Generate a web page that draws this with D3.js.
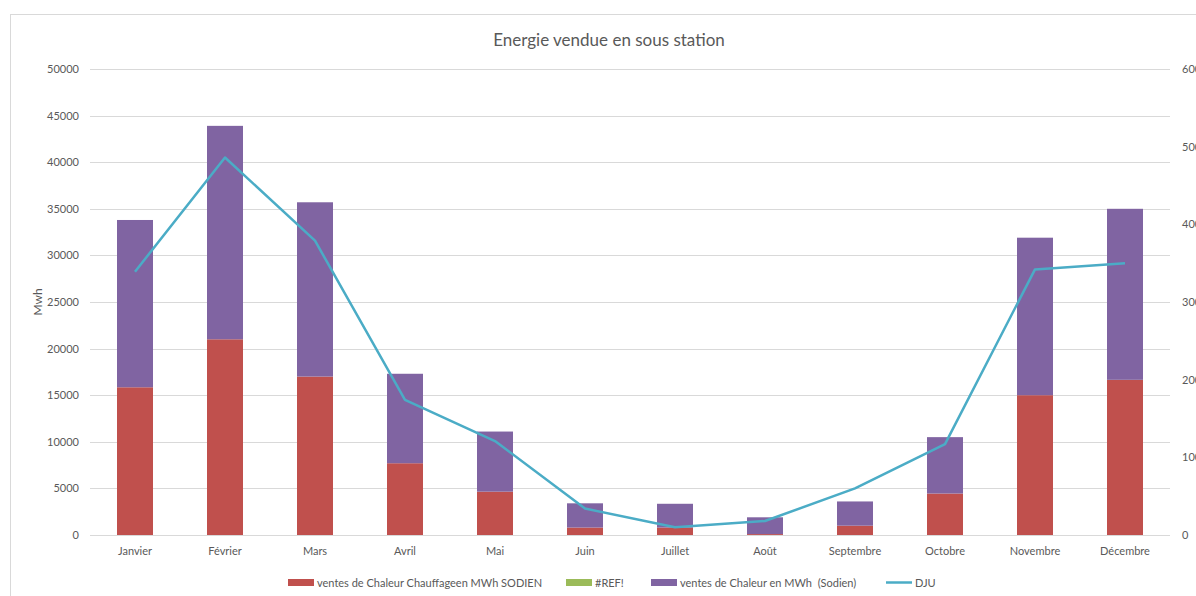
<!DOCTYPE html>
<html>
<head>
<meta charset="utf-8">
<script src="https://cdn.jsdelivr.net/npm/d3@7/dist/d3.min.js"></script>
<style>
  html, body { margin: 0; padding: 0; background: #fff; overflow: hidden; }
  svg { display: block; }
  text { font-family: Lato, "Open Sans", sans-serif; fill: #595959; }
</style>
</head>
<body>
<svg id="chart" width="1196" height="596"></svg>
<script>
const months = ["Janvier","Février","Mars","Avril","Mai","Juin","Juillet","Août","Septembre","Octobre","Novembre","Décembre"];
const ventesChauffageen = [15850, 21000, 17000, 7700, 4650, 800, 800, 100, 1000, 4450, 15000, 16650];
const refSeries = [0, 0, 0, 0, 0, 0, 0, 0, 0, 0, 0, 0];
const ventesSodien = [17950, 22900, 18700, 9600, 6450, 2600, 2550, 1800, 2600, 6050, 16900, 18350];
const dju = [339, 486, 379, 174, 121, 34, 10, 18, 60, 117, 342, 350];
const leftTicks = [0, 5000, 10000, 15000, 20000, 25000, 30000, 35000, 40000, 45000, 50000];
const rightTicks = [0, 100, 200, 300, 400, 500, 600];
const seriesNames = ["ventes de Chaleur Chauffageen MWh SODIEN", "#REF!", "ventes de Chaleur en MWh  (Sodien)", "DJU"];
const colors = ["#C0504D", "#9BBB59", "#8064A2", "#4BACC6"];

const svg = d3.select("#chart");
const plot = { left: 90, right: 1170, top: 69, bottom: 535 };

// chart frame
svg.append("rect").attr("x", 10.5).attr("y", 14.5).attr("width", 1230).attr("height", 620)
  .attr("fill", "#fff").attr("stroke", "#D9D9D9").attr("stroke-width", 1);

const x = d3.scaleBand().domain(months).range([plot.left, plot.right]).paddingInner(0.6).paddingOuter(0.3);
const y = d3.scaleLinear().domain([0, 50000]).range([plot.bottom, plot.top]);
const y2 = d3.scaleLinear().domain([0, 600]).range([plot.bottom, plot.top]);

// gridlines
svg.append("g").selectAll("line").data(leftTicks).join("line")
  .attr("x1", plot.left).attr("x2", plot.right)
  .attr("y1", d => Math.round(y(d)) + 0.5).attr("y2", d => Math.round(y(d)) + 0.5)
  .attr("stroke", "#D9D9D9").attr("stroke-width", 1);

// left axis
const gl = svg.append("g").attr("transform", `translate(${plot.left},0)`)
  .call(d3.axisLeft(y).tickValues(leftTicks).tickSize(0).tickPadding(11).tickFormat(d3.format("d")));
gl.select(".domain").remove();
gl.selectAll("text").style("font-family", "Lato, sans-serif").style("font-size", "11px").attr("fill", "#595959");

// right axis (cut by the window edge, as in the reference)
const gr = svg.append("g").attr("transform", `translate(${plot.right},0)`)
  .call(d3.axisRight(y2).tickValues(rightTicks).tickSize(0).tickPadding(12).tickFormat(d3.format("d")));
gr.select(".domain").remove();
gr.selectAll("text").style("font-family", "Lato, sans-serif").style("font-size", "11px").attr("fill", "#595959");

// bottom axis
const gb = svg.append("g").attr("transform", `translate(0,${plot.bottom})`)
  .call(d3.axisBottom(x).tickSize(0).tickPadding(12));
gb.select(".domain").remove();
gb.selectAll("text").style("font-family", "Lato, sans-serif").style("font-size", "11px").attr("fill", "#595959");

// stacked bars
const rows = months.map((m, i) => ({ month: m, a: ventesChauffageen[i], b: refSeries[i], c: ventesSodien[i] }));
const stack = d3.stack().keys(["a", "b", "c"])(rows);
svg.append("g").selectAll("g").data(stack).join("g")
  .attr("fill", (d, i) => colors[i])
  .selectAll("rect").data(d => d).join("rect")
  .attr("x", d => x(d.data.month))
  .attr("width", x.bandwidth())
  .attr("y", d => y(d[1]))
  .attr("height", d => Math.max(0, y(d[0]) - y(d[1])));

// DJU line
const line = d3.line().x((d, i) => x(months[i]) + x.bandwidth() / 2).y(d => y2(d));
svg.append("path").datum(dju).attr("d", line)
  .attr("fill", "none").attr("stroke", colors[3]).attr("stroke-width", 2.5).attr("stroke-linejoin", "round");

// title
svg.append("text").attr("x", 609).attr("y", 46).attr("text-anchor", "middle")
  .style("font-size", "17px").text("Energie vendue en sous station");

// y axis title
svg.append("text").attr("transform", "translate(42,302) rotate(-90)").attr("text-anchor", "middle")
  .style("font-size", "12px").text("Mwh");

// legend
const legendX = [288, 566, 651, 886];
const lg = svg.append("g");
seriesNames.forEach((name, i) => {
  if (i < 3) {
    lg.append("rect").attr("x", legendX[i]).attr("y", 579).attr("width", 26).attr("height", 7).attr("fill", colors[i]);
  } else {
    lg.append("line").attr("x1", legendX[i]).attr("x2", legendX[i] + 26).attr("y1", 582.5).attr("y2", 582.5)
      .attr("stroke", colors[i]).attr("stroke-width", 2.5);
  }
  lg.append("text").attr("x", legendX[i] + 29).attr("y", 586.5).style("font-size", "11px")
    .style("white-space", "pre").text(name);
});
</script>
</body>
</html>
